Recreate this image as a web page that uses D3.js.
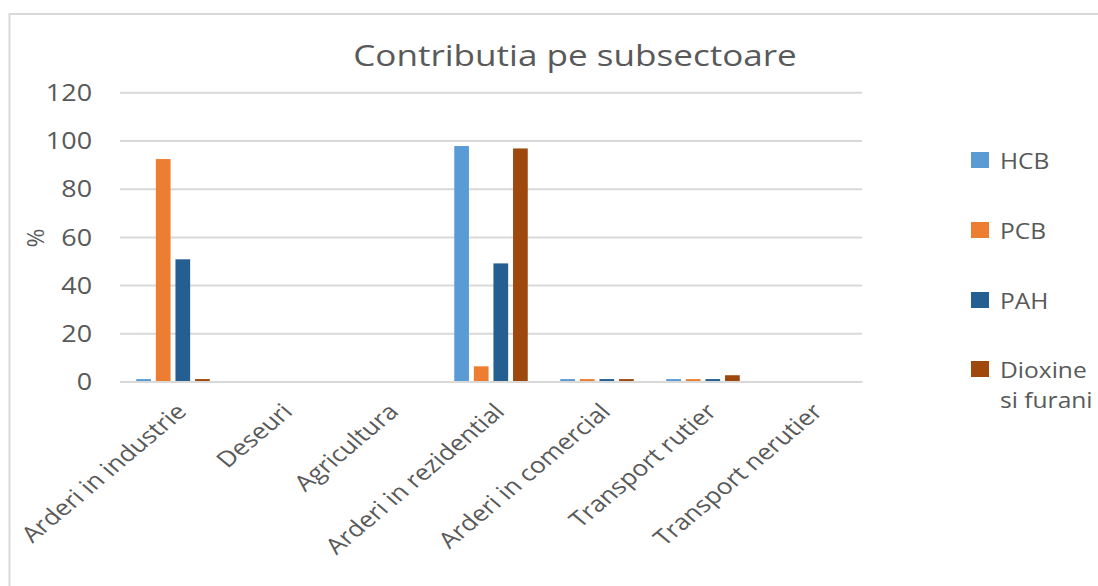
<!DOCTYPE html>
<html>
<head>
<meta charset="utf-8">
<script src="https://cdn.jsdelivr.net/npm/d3@7"></script>
<style>
  html, body { margin: 0; padding: 0; background: #fff; }
  svg { display: block; }
  text { font-family: "Open Sans", "Liberation Sans", sans-serif; fill: #595959; }
</style>
</head>
<body>
<svg id="chart" width="1098" height="586"></svg>
<script>
const categories = ["Arderi in industrie", "Deseuri", "Agricultura", "Arderi in rezidential",
                    "Arderi in comercial", "Transport rutier", "Transport nerutier"];
const seriesNames = ["HCB", "PCB", "PAH", "Dioxine si furani"];
const hcb     = [1, 0, 0, 97.7, 1, 1, 0];
const pcb     = [92.3, 0, 0, 6.3, 1, 1, 0];
const pah     = [50.7, 0, 0, 49, 1, 1, 0];
const dioxine = [1, 0, 0, 96.7, 1, 2.6, 0];
const yTicks  = [0, 20, 40, 60, 80, 100, 120];
const colors  = ["#5B9BD5", "#ED7D31", "#255E91", "#9E480E"];
const titleText = "Contributia pe subsectoare";
const yLabel = "%";

const seriesValues = [hcb, pcb, pah, dioxine];
const SX = 1.17; // horizontal text stretch seen in the reference

const svg = d3.select("#chart");

// frame
svg.append("rect").attr("x", 9.5).attr("y", 14).attr("width", 1200).attr("height", 700)
  .attr("fill", "none").attr("stroke", "#D9D9D9").attr("stroke-width", 2);

const x0 = d3.scaleBand().domain(categories).range([120, 862]).paddingInner(0).paddingOuter(0);
const groupW = 73.5;
const x1 = d3.scaleBand().domain(seriesNames).range([-groupW / 2, groupW / 2]).paddingInner(0.25).paddingOuter(0);
const y = d3.scaleLinear().domain([0, 120]).range([381.5, 92.3]);

// gridlines + tick labels
const yAxis = d3.axisLeft(y).tickValues(yTicks).tickSize(-(862 - 120)).tickPadding(28);
const gy = svg.append("g").attr("transform", "translate(120,0)").call(yAxis);
gy.select(".domain").remove();
gy.selectAll(".tick line").attr("stroke", "#D9D9D9").attr("stroke-width", 2);
gy.selectAll(".tick text").style("font-size", "23px").attr("fill", "#595959")
  .attr("dy", "0.36em").attr("x", -28 / SX).attr("transform", `scale(${SX},1)`);

// bars
const g = svg.append("g");
seriesNames.forEach((s, si) => {
  g.selectAll(".bar-" + si)
    .data(categories.map((c, i) => ({ c, v: seriesValues[si][i] })))
    .enter().append("rect")
    .attr("x", d => x0(d.c) + x0.bandwidth() / 2 + x1(s))
    .attr("width", x1.bandwidth())
    .attr("y", d => y(d.v))
    .attr("height", d => y(0) - y(d.v))
    .attr("fill", colors[si]);
});

// x axis baseline
const xAxis = d3.axisBottom(x0).tickSize(0).tickFormat("");
const gx = svg.append("g").attr("transform", `translate(0,${y(0)})`).call(xAxis);
gx.select(".domain").attr("stroke", "#D9D9D9").attr("stroke-width", 2);

// category labels
svg.append("g").selectAll("text").data(categories).enter().append("text")
  .attr("transform", d => `translate(${x0(d) + x0.bandwidth() / 2 + 15},413) scale(${SX + 0.02},1) rotate(-45)`)
  .attr("text-anchor", "end")
  .style("font-size", "22px")
  .text(d => d);

// y label
svg.append("text").attr("transform", "translate(44,238) rotate(-90)")
  .attr("text-anchor", "middle").style("font-size", "23px").text(yLabel);

// title
svg.append("text").attr("transform", `translate(575,66) scale(${SX},1)`).attr("text-anchor", "middle")
  .style("font-size", "30px").text(titleText);

// legend
const legendY = [160, 230, 300, 369];
const leg = svg.append("g");
seriesNames.forEach((s, i) => {
  leg.append("rect").attr("x", 971).attr("y", legendY[i] - 8).attr("width", 18).attr("height", 16)
    .attr("fill", colors[i]);
  const t = leg.append("text").attr("transform", `translate(1000,${legendY[i] + 9}) scale(${SX},1)`)
    .style("font-size", "21px");
  if (s === "Dioxine si furani") {
    t.append("tspan").attr("x", 0).text("Dioxine");
    t.append("tspan").attr("x", 0).attr("dy", 30).text("si furani");
  } else {
    t.text(s);
  }
});
</script>
</body>
</html>
